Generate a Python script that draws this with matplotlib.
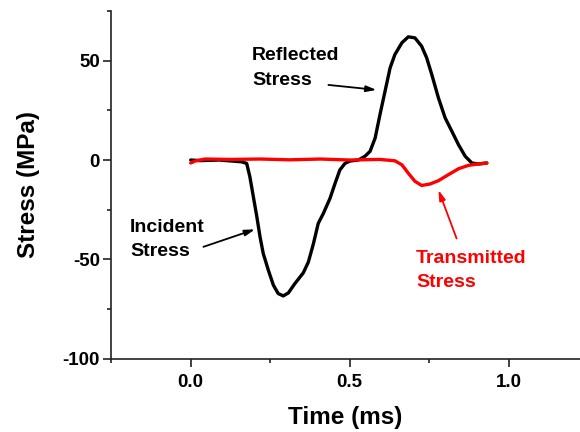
import matplotlib
matplotlib.use("Agg")
import matplotlib.pyplot as plt
from matplotlib.ticker import MultipleLocator

# incident + reflected pulse on the bar (black), transmitted pulse (red)
t_bar = [0.000, 0.030, 0.090, 0.160, 0.176, 0.186, 0.197, 0.208, 0.218,
         0.228, 0.244, 0.260, 0.275, 0.291, 0.307, 0.328, 0.354, 0.370,
         0.386, 0.401, 0.417, 0.438, 0.454, 0.469, 0.485, 0.501, 0.527,
         0.548, 0.564, 0.580, 0.595, 0.611, 0.627, 0.642, 0.664, 0.684,
         0.705, 0.726, 0.742, 0.758, 0.779, 0.800, 0.821, 0.842, 0.863,
         0.884, 0.904, 0.931]
s_bar = [0.0, -0.3, 0.0, -0.9, -1.7, -8.4, -18.5, -28.6, -38.7,
         -47.0, -55.4, -63.0, -67.2, -68.4, -66.9, -62.1, -56.8, -51.3,
         -42.0, -31.9, -26.9, -19.3, -11.7, -5.0, -1.7, -0.5, 0.0,
         1.9, 4.4, 11.1, 22.8, 34.6, 46.4, 53.1, 59.0, 62.0,
         61.5, 57.3, 51.4, 43.0, 31.2, 21.2, 14.5, 7.7, 1.9,
         -1.5, -2.0, -1.5]

t_trans = [0.000, 0.014, 0.045, 0.124, 0.218, 0.312, 0.407, 0.500, 0.594,
           0.642, 0.664, 0.684, 0.705, 0.726, 0.752, 0.779, 0.810, 0.842,
           0.873, 0.904, 0.931]
s_trans = [-1.5, -0.5, 0.5, 0.3, 0.5, 0.1, 0.5, 0.0, 0.3,
           -0.4, -2.4, -6.6, -10.7, -12.8, -12.1, -10.4, -7.4, -4.4,
           -2.7, -2.0, -1.5]

font = ["Liberation Sans", "DejaVu Sans"]
plt.rcParams["font.family"] = font
plt.rcParams["font.weight"] = "bold"
plt.rcParams["axes.unicode_minus"] = False

fig = plt.figure(figsize=(5.8, 4.32), dpi=100)
ax = fig.add_axes([0.1917, 0.1697, 0.8083, 0.8048])

ax.plot(t_bar, s_bar, color="black", lw=2.4,
        solid_capstyle="round", solid_joinstyle="round")
ax.plot(t_trans, s_trans, color="#ff0000", lw=2.4,
        solid_capstyle="round", solid_joinstyle="round")

ax.set_xlim(-0.25, 1.224)
ax.set_ylim(-100, 75)
ax.xaxis.set_major_locator(MultipleLocator(0.5))
ax.xaxis.set_minor_locator(MultipleLocator(0.25))
ax.yaxis.set_major_locator(MultipleLocator(50))
ax.yaxis.set_minor_locator(MultipleLocator(25))
ax.xaxis.set_major_formatter(plt.FormatStrFormatter("%.1f"))

for side in ("top", "right"):
    ax.spines[side].set_visible(False)
for side in ("left", "bottom"):
    ax.spines[side].set_linewidth(1.2)
    ax.spines[side].set_color("#222222")

ax.tick_params(which="major", direction="out", length=6, width=1.2,
               labelsize=13.5, color="#222222")
ax.tick_params(which="minor", direction="out", length=3, width=1.2,
               color="#222222")
ax.tick_params(axis="x", which="major", pad=5)
ax.tick_params(axis="y", which="major", pad=2)

ax.set_xlabel("Time (ms)", fontsize=17.5, fontweight="bold", labelpad=11)
ax.set_ylabel("Stress (MPa)", fontsize=17.5, fontweight="bold", labelpad=16)

arrow = dict(arrowstyle="-|>,head_length=0.6,head_width=0.18", lw=1.3,
             shrinkA=0, shrinkB=0)

ax.text(0.193, 57.0, "Reflected\nStress", fontsize=14, fontweight="bold",
        ha="left", va="top", linespacing=1.6)
ax.annotate("", xy=(0.584, 35.3), xytext=(0.433, 37.8),
            arrowprops=dict(arrow, color="black"))

ax.text(-0.191, -29.7, "Incident\nStress", fontsize=14, fontweight="bold",
        ha="left", va="top", linespacing=1.55)
ax.annotate("", xy=(0.202, -34.9), xytext=(0.040, -43.7),
            arrowprops=dict(arrow, color="black"))

ax.text(0.708, -45.4, "Transmitted\nStress", fontsize=14, fontweight="bold",
        color="#ff0000", ha="left", va="top", linespacing=1.55)
ax.annotate("", xy=(0.779, -15.1), xytext=(0.836, -39.5),
            arrowprops=dict(arrow, color="#ff0000"))

fig.savefig("out.png", dpi=100)
